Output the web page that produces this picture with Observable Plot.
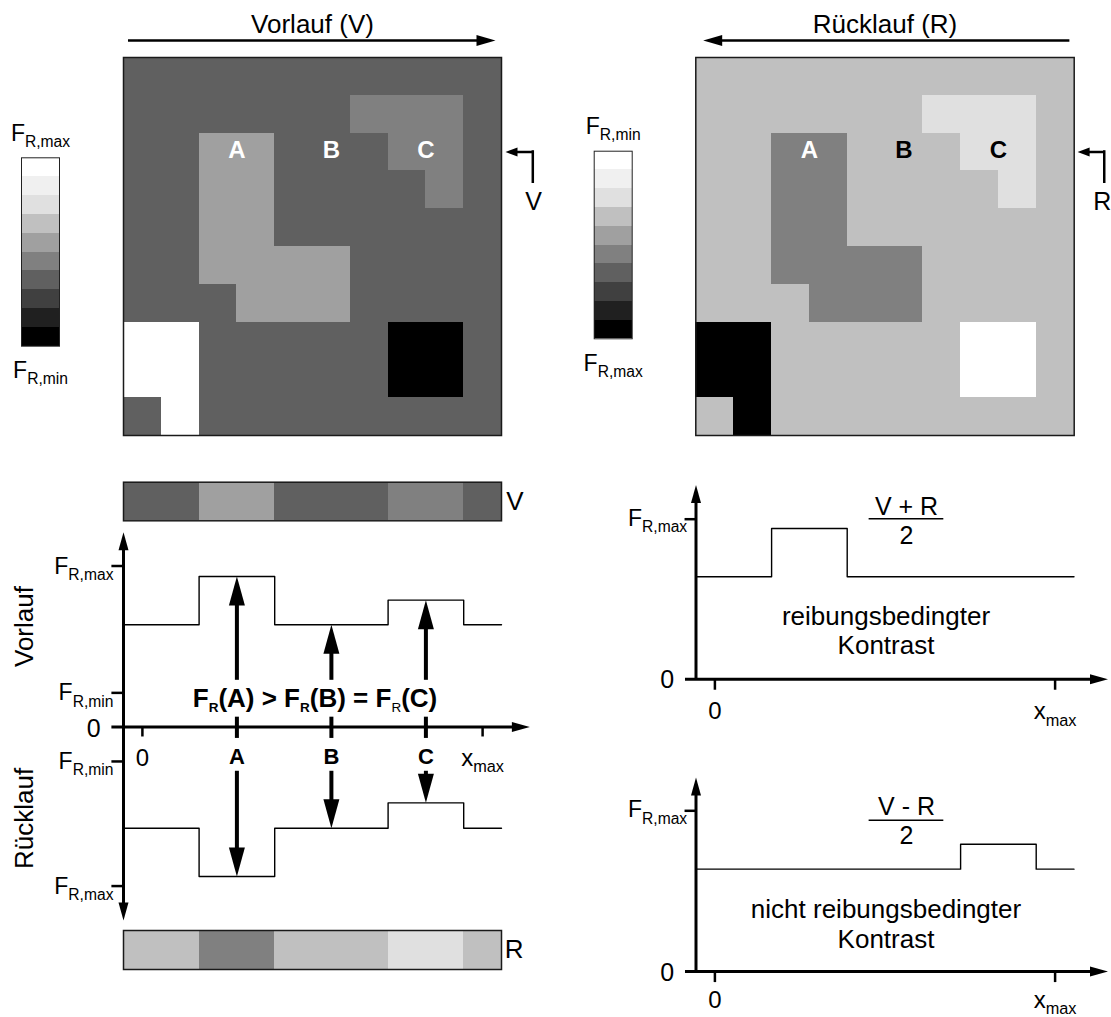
<!DOCTYPE html>
<html><head><meta charset="utf-8">
<script src="https://cdn.jsdelivr.net/npm/d3@7"></script>
<script src="https://cdn.jsdelivr.net/npm/@observablehq/plot@0.6"></script>
<style>
html,body{margin:0;padding:0;background:#fff;}
#chart{position:relative;width:1111px;height:1017px;overflow:hidden;font-family:'Liberation Sans',Arial,Helvetica,sans-serif;}
#chart svg{position:absolute;background:transparent;overflow:visible;max-width:none;font-family:'Liberation Sans',Arial,Helvetica,sans-serif;}
</style></head><body><div id="chart"></div>
<script>
// ---------------- data ----------------
const regionCodes   = [".", "A", "C", "W", "K"];
const vorlaufGray   = [96, 160, 128, 255, 0];
const ruecklaufGray = [192, 128, 224, 0, 255];
const regionMap = [
  "..........",
  "......CCC.",
  "..AA...CC.",
  "..AA....C.",
  "..AA......",
  "..AAAA....",
  "...AAA....",
  "WW.....KK.",
  "WW.....KK.",
  ".W........"
];
const scanRow = 2;
const colorbarLevels = [255, 240, 224, 192, 160, 128, 96, 64, 32, 0];
const markerNames = ["A", "B", "C"];
const markerCols  = [3, 5.5, 8];
const profileCodes     = [".", "A", "C"];
const vorlaufProfile   = [0.635, 0.935, 0.788];
const ruecklaufProfile = [-0.629, -0.929, -0.471];
const sumProfile       = [0.64, 0.942, 0.64];
const diffProfile      = [0.637, 0.637, 0.792];
const lowerTickValues  = [1, 0.212, -0.214, -0.988];
const lowerTickLabels  = ["F_{R,max}", "F_{R,min}", "F_{R,min}", "F_{R,max}"];
const xTickValues = [0.5, 9.5];
const xTickLabels = ["0", "x_{max}"];

// ---------------- helpers ----------------
const FONT = "'Liberation Sans', Arial, Helvetica, sans-serif";
const chart = document.getElementById("chart");
const gray = g => `rgb(${g},${g},${g})`;
const cells = regionMap.flatMap((row, r) => Array.from(row, (code, c) => ({r, c, code})));
const scanCells = cells.filter(d => d.r === scanRow);
const grayOf = (list, code) => list[regionCodes.indexOf(code)];
const levelOf = (list, code) => list[profileCodes.indexOf(code)];
const profilePoints = list => [
  ...scanCells.map(d => ({x: d.c, y: levelOf(list, d.code)})),
  {x: 10, y: levelOf(list, scanCells[scanCells.length - 1].code)}
];
const markers = markerNames.map((name, i) => ({name, x: markerCols[i], code: scanCells[Math.floor(markerCols[i])].code}));
const xTicks = xTickValues.map((v, i) => ({v, label: xTickLabels[i]}));
const lowerTicks = lowerTickValues.map((v, i) => ({v, label: lowerTickLabels[i]}));

function head(dir, len, wid) {
  const h = wid / 2;
  const pts = {
    up: [[0, 0], [-h, len], [h, len]],
    down: [[0, 0], [-h, -len], [h, -len]],
    right: [[0, 0], [-len, -h], [-len, h]],
    left: [[0, 0], [len, -h], [len, h]]
  }[dir];
  return {draw(ctx) { ctx.moveTo(...pts[0]); ctx.lineTo(...pts[1]); ctx.lineTo(...pts[2]); ctx.closePath(); }};
}
function plot(opts) {
  return Plot.plot({...opts, style: {fontFamily: FONT, background: "transparent", overflow: "visible"}});
}
function mount(svg, left, top) {
  svg.style.position = "absolute";
  svg.style.left = left + "px";
  svg.style.top = top + "px";
  svg.style.maxWidth = "none";
  chart.appendChild(svg);
}
function subify(root) {
  const NS = "http://www.w3.org/2000/svg";
  root.querySelectorAll("text").forEach(t => {
    const s = t.textContent;
    if (!s.includes("_{")) return;
    const fs = parseFloat(getComputedStyle(t).fontSize) || 16;
    while (t.firstChild) t.removeChild(t.firstChild);
    const add = (txt, attrs) => {
      const ts = document.createElementNS(NS, "tspan");
      ts.textContent = txt;
      for (const k in attrs) ts.setAttribute(k, attrs[k]);
      t.appendChild(ts);
    };
    const re = /_\{([!~]*)([^}]*)\}/g;
    let last = 0, m, lowered = 0;
    while ((m = re.exec(s))) {
      if (m.index > last) { add(s.slice(last, m.index), lowered ? {dy: -lowered} : {}); lowered = 0; }
      const small = m[1].includes("!"), normal = m[1].includes("~");
      const shift = fs * (small ? 0.2 : 0.27);
      const attrs = {"font-size": fs * (small ? 0.52 : 0.68), dy: shift};
      if (normal) attrs["font-weight"] = "normal";
      add(m[2], attrs);
      lowered = shift;
      last = re.lastIndex;
    }
    if (last < s.length) add(s.slice(last), lowered ? {dy: -lowered} : {});
  });
}

// ---------------- grid panels ----------------
function gridPanel(cfg) {
  const rowMid = scanRow + 0.5;
  return plot({
    width: cfg.width, height: 450,
    marginLeft: cfg.marginLeft, marginRight: cfg.marginRight, marginTop: 57, marginBottom: 15,
    x: {domain: [0, 10], axis: null},
    y: {domain: [0, 10], reverse: true, axis: null},
    color: {type: "identity"},
    marks: [
      Plot.rect(cells, {x1: "c", x2: d => d.c + 1, y1: "r", y2: d => d.r + 1,
        fill: d => gray(grayOf(cfg.grays, d.code)), shapeRendering: "crispEdges"}),
      Plot.frame({stroke: "#1a1a1a", strokeWidth: 1.5}),
      Plot.text(markers, {x: "x", y: rowMid, text: "name", dy: -2, fontSize: 24, fontWeight: "bold",
        fill: d => grayOf(cfg.grays, d.code) < 176 ? "white" : "black"}),
      Plot.text([cfg.title], {frameAnchor: "top", lineAnchor: "bottom", dy: -25, fontSize: 26}),
      Plot.ruleY([-0.45], {x1: cfg.arrowLeft, x2: cfg.arrowRight, strokeWidth: 2.5,
        insetLeft: cfg.arrowDir === "left" ? 16 : 0, insetRight: cfg.arrowDir === "right" ? 16 : 0}),
      Plot.dot([0], {x: cfg.arrowDir === "right" ? cfg.arrowRight : cfg.arrowLeft, y: -0.45,
        symbol: head(cfg.arrowDir, 19, 11), fill: "black", stroke: "none"}),
      Plot.ruleY([rowMid], {x1: cfg.bentTip, x2: cfg.bentCorner, strokeWidth: 2.5, insetLeft: 10, strokeLinecap: "square"}),
      Plot.ruleX([cfg.bentCorner], {y1: rowMid, y2: 3.3, strokeWidth: 2.5, strokeLinecap: "square"}),
      Plot.dot([0], {x: cfg.bentTip, y: rowMid, symbol: head("left", 12, 9), fill: "black", stroke: "none"}),
      Plot.text([cfg.side], {x: cfg.sideX, y: 4.03, lineAnchor: "bottom", fontSize: 25})
    ]
  });
}
mount(gridPanel({grays: vorlaufGray, title: "Vorlauf (V)", side: "V", width: 460, marginLeft: 23, marginRight: 59,
  arrowLeft: 0.132, arrowRight: 9.841, arrowDir: "right", bentTip: 10.106, bentCorner: 10.828, sideX: 10.85}), 100, 0);
mount(gridPanel({grays: ruecklaufGray, title: "Rücklauf (R)", side: "R", width: 441, marginLeft: 25.3, marginRight: 37.3,
  arrowLeft: 0.196, arrowRight: 9.886, arrowDir: "left", bentTip: 10.09, bentCorner: 10.794, sideX: 10.74}), 670, 0);

// ---------------- colour bars ----------------
function colorbar(cfg) {
  return plot({
    width: cfg.width, height: cfg.height,
    marginLeft: cfg.ml, marginRight: cfg.mr, marginTop: cfg.mt, marginBottom: cfg.mb,
    x: {domain: [0, 1], axis: null},
    y: {domain: [0, colorbarLevels.length], reverse: true, axis: null},
    color: {type: "identity"},
    marks: [
      Plot.rect(colorbarLevels, {y1: (d, i) => i, y2: (d, i) => i + 1, fill: d => gray(d), shapeRendering: "crispEdges"}),
      Plot.frame({stroke: "#222", strokeWidth: 1}),
      Plot.text([cfg.top], {frameAnchor: "top", lineAnchor: "bottom", dy: cfg.dyTop, fontSize: 23}),
      Plot.text([cfg.bottom], {frameAnchor: "bottom", lineAnchor: "bottom", dy: cfg.dyBottom, fontSize: 23})
    ]
  });
}
mount(colorbar({width: 85, height: 300, ml: 21, mr: 26, mt: 57.3, mb: 54.3,
  top: "F_{R,max}", bottom: "F_{R,min}", dyTop: -17.3, dyBottom: 32}), 0, 100);
mount(colorbar({width: 90, height: 310, ml: 23.7, mr: 28.3, mt: 60.7, mb: 61.7,
  top: "F_{R,min}", bottom: "F_{R,max}", dyTop: -17.4, dyBottom: 31.7}), 570, 90);

// ---------------- line-scan bars ----------------
function scanBar(grays, label, mt, mb) {
  return plot({
    width: 460, height: 60, marginLeft: 23, marginRight: 59, marginTop: mt, marginBottom: mb,
    x: {domain: [0, 10], axis: null},
    color: {type: "identity"},
    marks: [
      Plot.rect(scanCells, {x1: "c", x2: d => d.c + 1, fill: d => gray(grayOf(grays, d.code)), shapeRendering: "crispEdges"}),
      Plot.frame({stroke: "#1a1a1a", strokeWidth: 1.5}),
      Plot.text([label], {frameAnchor: "right", dx: 22, fontSize: 26})
    ]
  });
}
mount(scanBar(vorlaufGray, "V", 11.7, 9.7), 100, 470);
mount(scanBar(ruecklaufGray, "R", 10, 11), 100, 920);

// ---------------- forward / backward profiles ----------------
const vLevel = d => levelOf(vorlaufProfile, d.code);
const rLevel = d => levelOf(ruecklaufProfile, d.code);
mount(plot({
  width: 560, height: 410, marginLeft: 123, marginRight: 59, marginTop: 45.5, marginBottom: 42.5,
  x: {domain: [0, 10], axis: null},
  y: {domain: [-1, 1], axis: null},
  marks: [
    Plot.line(profilePoints(vorlaufProfile), {x: "x", y: "y", curve: "step-after", strokeWidth: 1.4}),
    Plot.line(profilePoints(ruecklaufProfile), {x: "x", y: "y", curve: "step-after", strokeWidth: 1.4}),
    // axes
    Plot.ruleX([0], {y1: 1.21, y2: -1.202, strokeWidth: 3, insetTop: 15, insetBottom: 15}),
    Plot.dot([0], {x: 0, y: 1.21, symbol: head("up", 18, 10), fill: "black", stroke: "none"}),
    Plot.dot([0], {x: 0, y: -1.202, symbol: head("down", 18, 10), fill: "black", stroke: "none"}),
    Plot.ruleY([0], {x1: -0.307, x2: 10.75, strokeWidth: 3, insetRight: 15}),
    Plot.dot([0], {x: 10.75, y: 0, symbol: head("right", 18, 10), fill: "black", stroke: "none"}),
    Plot.ruleY(lowerTicks, {y: "v", x1: -0.307, x2: 0, strokeWidth: 2.5}),
    Plot.ruleX(xTicks, {x: "v", y1: 0, y2: -0.062, strokeWidth: 2.5}),
    // arrows
    Plot.ruleX(markers, {x: "x", y1: vLevel, y2: 0.29, strokeWidth: 4, insetTop: 20}),
    Plot.dot(markers, {x: "x", y: vLevel, symbol: head("up", 29, 16), fill: "black", stroke: "none"}),
    Plot.ruleX(markers, {x: "x", y1: 0.061, y2: -0.071, strokeWidth: 4}),
    Plot.ruleX(markers, {x: "x", y1: -0.275, y2: rLevel, strokeWidth: 4, insetBottom: 20}),
    Plot.dot(markers, {x: "x", y: rLevel, symbol: head("down", 29, 16), fill: "black", stroke: "none"}),
    // labels
    Plot.text(["F_{!R}(A) > F_{!R}(B) = F_{!~R}(C)"], {x: 5.066, y: 0.123, lineAnchor: "bottom", fontSize: 26, fontWeight: "bold"}),
    Plot.text(markers, {x: "x", y: -0.2286, text: "name", lineAnchor: "bottom", fontSize: 22, fontWeight: "bold"}),
    Plot.text(lowerTicks, {x: -0.265, y: "v", text: "label", textAnchor: "end", lineAnchor: "bottom", dy: 7.5, fontSize: 23}),
    Plot.text(["0"], {x: -0.786, y: 0, lineAnchor: "bottom", dy: 9.5, fontSize: 25}),
    Plot.text(xTicks, {x: "v", y: 0, text: "label", lineAnchor: "bottom", dy: 39, fontSize: 24}),
    Plot.text(["Vorlauf"], {x: -2.62, y: 0.624, rotate: -90, fontSize: 26}),
    Plot.text(["Rücklauf"], {x: -2.62, y: -0.568, rotate: -90, fontSize: 26})
  ]
}), 0, 520);

// ---------------- contrast panels ----------------
function contrastPanel(cfg) {
  return plot({
    width: 511, height: cfg.height, marginLeft: 95.5, marginRight: 37.5, marginTop: cfg.mt, marginBottom: cfg.mb,
    x: {domain: [0, 10], axis: null},
    y: {domain: [0, 1], axis: null},
    marks: [
      Plot.line(profilePoints(cfg.profile), {x: "x", y: "y", curve: "step-after", strokeWidth: 1.4}),
      Plot.ruleX([0], {y1: cfg.yTip, y2: 0, strokeWidth: 3, insetTop: 15}),
      Plot.dot([0], {x: 0, y: cfg.yTip, symbol: head("up", 18, 10), fill: "black", stroke: "none"}),
      Plot.ruleY([0], {x1: -0.278, x2: 10.9, strokeWidth: 3, insetRight: 15}),
      Plot.dot([0], {x: 10.9, y: 0, symbol: head("right", 18, 10), fill: "black", stroke: "none"}),
      Plot.ruleY([1], {x1: -0.29, x2: 0, strokeWidth: 2.5}),
      Plot.ruleX(xTicks, {x: "v", y1: 0, y2: -0.069, strokeWidth: 2.5}),
      Plot.text(["0"], {x: -0.762, y: 0, lineAnchor: "bottom", dy: 9, fontSize: 25}),
      Plot.text(["F_{R,max}"], {x: -0.233, y: 1, textAnchor: "end", lineAnchor: "bottom", dy: 6.6, fontSize: 23}),
      Plot.text(xTicks, {x: "v", y: 0, text: "label", lineAnchor: "bottom", dy: cfg.xDy, fontSize: 24}),
      Plot.text([cfg.frac], {x: 5.57, y: cfg.fracY, lineAnchor: "bottom", fontSize: 25}),
      Plot.ruleY([cfg.barY], {x1: 4.58, x2: 6.556, strokeWidth: 1.6}),
      Plot.text(["2"], {x: 5.57, y: cfg.twoY, lineAnchor: "bottom", fontSize: 25}),
      Plot.text([cfg.cap1, "Kontrast"], {x: 5.026, y: (d, i) => cfg.capY[i], lineAnchor: "bottom", fontSize: 26})
    ]
  });
}
mount(contrastPanel({height: 260, mt: 48.7, mb: 51.3, profile: sumProfile, yTip: 1.214, xDy: 40,
  frac: "V + R", fracY: 1.027, barY: 1.0025, twoY: 0.846,
  cap1: "reibungsbedingter", capY: [0.3375, 0.156]}), 600, 470);
mount(contrastPanel({height: 257, mt: 50.3, mb: 46, profile: diffProfile, yTip: 1.207, xDy: 36,
  frac: "V - R", fracY: 0.975, barY: 0.9415, twoY: 0.792,
  cap1: "nicht reibungsbedingter", capY: [0.331, 0.149]}), 600, 760);

subify(chart);
</script>
</body></html>
